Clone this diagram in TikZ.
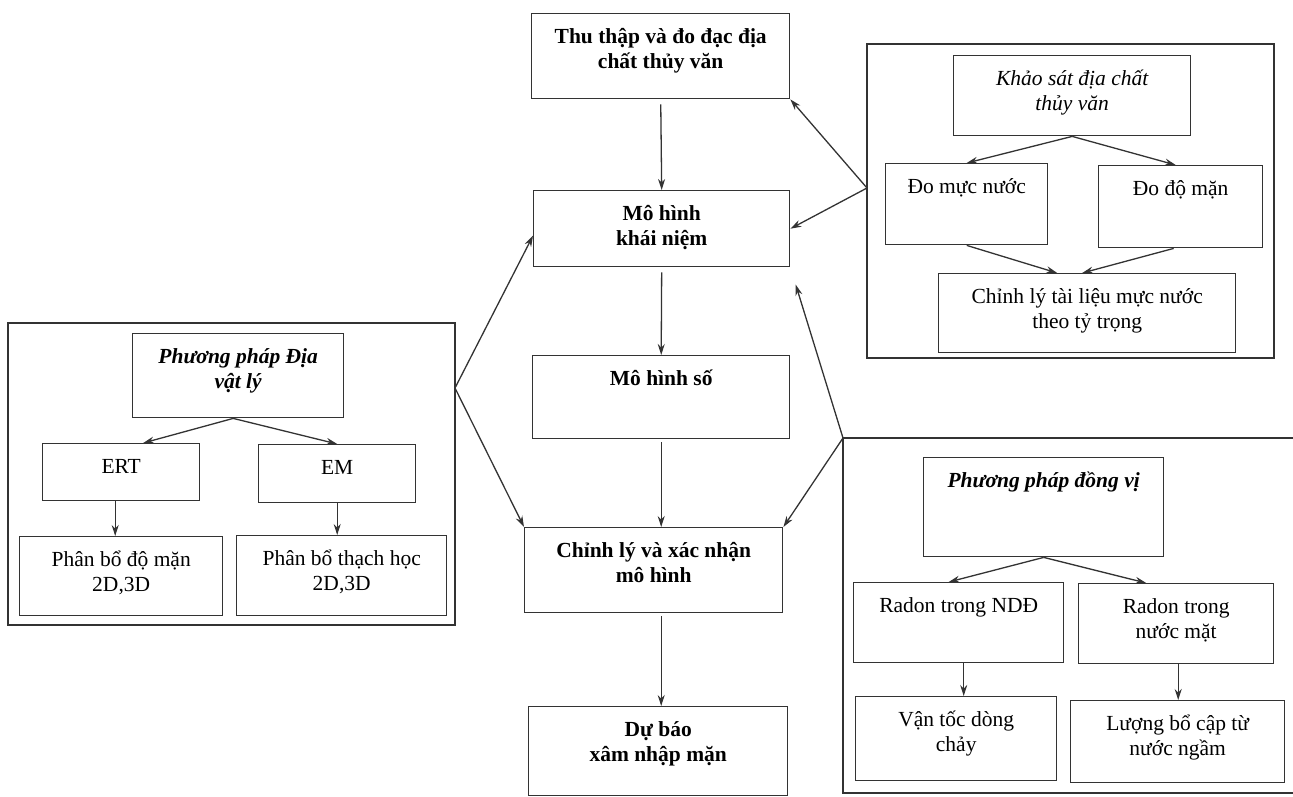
\documentclass[tikz,border=0pt]{standalone}
\usepackage{fontspec}
\setmainfont{Liberation Serif}
\usetikzlibrary{arrows.meta}

% text of a box: fixed size, lines from the top
\newcommand{\boxtext}[3]{\parbox[c][#2pt][t]{#1pt}{\centering\rule{0pt}{30pt}#3}}

\begin{document}
\begin{tikzpicture}[x=1pt, y=-1pt,
	box/.style = {draw=black!80, line width=1.4pt, inner sep=0pt, anchor=north west, font=\fontsize{21.5}{25}\selectfont},
	mainbox/.style = {box, font=\fontsize{21.5}{25}\selectfont\bfseries},
	frame/.style = {draw=black!80, line width=1.6pt},
	arr/.style = {draw=black!80, line width=1.3pt, -{Stealth[length=11pt,width=7pt]}}]
	\useasboundingbox (0,0) rectangle (1293,797);

	% main chain
	\node[mainbox] (thuthap) at (531,13) {\boxtext{258}{85}{Thu thập và đo đạc địa\\ chất thủy văn}};
	\node[mainbox] (khainiem) at (533,190) {\boxtext{256}{76}{Mô hình\\ khái niệm}};
	\node[mainbox] (moso) at (532,355) {\boxtext{257}{83}{Mô hình số}};
	\node[mainbox] (hieuchinh) at (524,527) {\boxtext{258}{85}{Chỉnh lý và xác nhận\\ mô hình}};
	\node[mainbox] (dubao) at (528,706) {\boxtext{259}{89}{Dự báo\\ xâm nhập mặn}};

	\draw[arr, shorten <=5pt] (thuthap.south) -- (khainiem.north);
	\draw[arr, shorten <=5pt] (khainiem.south) -- (moso.north);
	\draw[arr, shorten <=3pt] (moso.south) -- (moso.south |- hieuchinh.north);
	\draw[arr, shorten <=3pt] (moso.south |- hieuchinh.south) -- (moso.south |- dubao.north);

	% khao sat dia chat thuy van
	\draw[frame] (867,44) rectangle (1274,358);
	\coordinate (pKS) at (867,188);
	\node[box] (khaosat) at (953,55) {\boxtext{237}{80}{\textit{Khảo sát địa chất\\ thủy văn}}};
	\node[box] (mucnuoc) at (885,163) {\boxtext{162}{81}{Đo mực nước}};
	\node[box] (doman) at (1098,165) {\boxtext{164}{82}{Đo độ mặn}};
	\node[box] (tytrong) at (938,273) {\boxtext{297}{79}{Chỉnh lý tài liệu mực nước\\ theo tỷ trọng}};

	\draw[arr] (khaosat.south) -- (mucnuoc.north);
	\draw[arr] (khaosat.south) -- ([xshift=-5pt]doman.north);
	\draw[arr] (mucnuoc.south) -- ([xshift=-30pt]tytrong.north);
	\draw[arr] ([xshift=-7pt]doman.south) -- ([xshift=-5pt]tytrong.north);

	\draw[arr] (pKS) -- (thuthap.south east);
	\draw[arr] (pKS) -- (khainiem.east);

	% dia vat ly
	\draw[frame] (8,323) rectangle (455,625);
	\coordinate (pDL) at (455,388);
	\node[box] (diavatly) at (132,333) {\boxtext{211}{84}{\textbf{\textit{Phương pháp Địa\\ vật lý}}}};
	\node[box] (ert) at (42,443) {\boxtext{157}{57}{ERT}};
	\node[box] (em) at (258,444) {\boxtext{157}{58}{EM}};
	\node[box] (phanboman) at (19,536) {\boxtext{203}{79}{Phân bổ độ mặn\\ 2D,3D}};
	\node[box] (thachhoc) at (236,535) {\boxtext{210}{80}{Phân bổ thạch học\\ 2D,3D}};

	\draw[arr] ([xshift=-5pt]diavatly.south) -- ([xshift=22pt]ert.north);
	\draw[arr] ([xshift=-5pt]diavatly.south) -- (em.north);
	\draw[arr] ([xshift=-6pt]ert.south) -- ([xshift=-6pt]ert.south |- phanboman.north);
	\draw[arr] (em.south) -- (em.south |- thachhoc.north);

	\draw[arr] (pDL) -- ([yshift=-7pt]khainiem.west);
	\draw[arr] (pDL) -- (hieuchinh.north west);

	% dong vi
	\draw[frame] (1293,438) -- (843,438) -- (843,793) -- (1293,793);
	\coordinate (pDV) at (843,438);
	\node[box] (dongvi) at (923,457) {\boxtext{240}{99}{\textbf{\textit{Phương pháp đồng vị}}}};
	\node[box] (radonndd) at (853,582) {\boxtext{210}{80}{Radon trong NDĐ}};
	\node[box] (radonmat) at (1078,583) {\boxtext{195}{80}{Radon trong\\ nước mặt}};
	\node[box] (vantoc) at (855,696) {\boxtext{201}{84}{Vận tốc dòng\\ chảy}};
	\node[box] (bocap) at (1070,700) {\boxtext{214}{82}{Lượng bổ cập từ\\ nước ngầm}};

	\draw[arr] (dongvi.south) -- ([xshift=-10pt]radonndd.north);
	\draw[arr] (dongvi.south) -- ([xshift=-30pt]radonmat.north);
	\draw[arr] ([xshift=5pt]radonndd.south) -- ([xshift=5pt]radonndd.south |- vantoc.north);
	\draw[arr] ([xshift=2pt]radonmat.south) -- ([xshift=2pt]radonmat.south |- bocap.north);

	\draw[arr, shorten >=18pt] (pDV) -- (khainiem.south east);
	\draw[arr] (pDV) -- (hieuchinh.north east);
\end{tikzpicture}
\end{document}
